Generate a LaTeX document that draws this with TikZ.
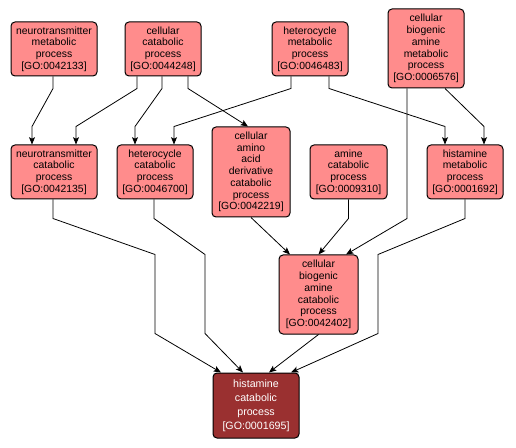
\documentclass[tikz,border=0pt]{standalone}
\usepackage{fontspec}
\setmainfont{Liberation Sans}
\usetikzlibrary{arrows.meta,calc}
\definecolor{termfill}{RGB}{255,140,140}
\definecolor{mainfill}{RGB}{154,48,48}
\begin{document}
\begin{tikzpicture}[x=0.75pt,y=-0.75pt,
  sz/.style 2 args={minimum width=#1*0.75pt, minimum height=#2*0.75pt},
  term/.style={draw=black, line width=0.75pt, rounded corners=3pt, fill=termfill,
    align=center, inner sep=0pt, text=black, font=\fontsize{7.8}{8.8}\selectfont},
  mainterm/.style={term, fill=mainfill, text=white, font=\fontsize{8}{10.5}\selectfont},
  edge/.style={draw=black, line width=0.6pt, -{Stealth[length=5.5pt,width=4.5pt,inset=1.2pt]}}]
\fill[white] (0,0) rectangle (516,448);
\useasboundingbox (0,0) rectangle (516,448);

\node[term, sz={86}{54}] (n1) at (54,49) {neurotransmitter\\metabolic\\process\\{[GO:0042133]}};
\node[term, sz={76}{54}] (n2) at (163,49) {cellular\\catabolic\\process\\{[GO:0044248]}};
\node[term, sz={76}{54}] (n3) at (310,49) {heterocycle\\metabolic\\process\\{[GO:0046483]}};
\node[term, sz={76}{79}] (n4) at (426,48.5) {cellular\\biogenic\\amine\\metabolic\\process\\{[GO:0006576]}};
\node[term, sz={86}{54}] (n5) at (54,172) {neurotransmitter\\catabolic\\process\\{[GO:0042135]}};
\node[term, sz={76}{54}] (n6) at (155,172) {heterocycle\\catabolic\\process\\{[GO:0046700]}};
\node[term, sz={78}{90}] (n7) at (251,172) {cellular\\amino\\acid\\derivative\\catabolic\\process\\{[GO:0042219]}};
\node[term, sz={77}{54}] (n8) at (348.5,172) {amine\\catabolic\\process\\{[GO:0009310]}};
\node[term, sz={76}{54}] (n9) at (465,172) {histamine\\metabolic\\process\\{[GO:0001692]}};
\node[term, sz={79}{79}] (n10) at (318.5,294.5) {cellular\\biogenic\\amine\\catabolic\\process\\{[GO:0042402]}};
\node[mainterm, sz={86}{65}] (n11) at (256,405.5) {histamine\\catabolic\\process\\{[GO:0001695]}};

\draw[edge] ($(n1.south)+(-1,0)$) -- ++(0,12) -- ($(n5.north)+(-22,-18)$) -- ($(n5.north)+(-22,0)$);
\draw[edge] ($(n2.south)+(-26,0)$) -- ++(0,12) -- ($(n5.north)+(22,-18)$) -- ($(n5.north)+(22,0)$);
\draw[edge] ($(n2.south)+(-1,0)$) -- ++(0,12) -- ($(n6.north)+(-20,-18)$) -- ($(n6.north)+(-20,0)$);
\draw[edge] ($(n2.south)+(25,0)$) -- ++(0,12) -- ($(n7.north)+(-3,0)$);
\draw[edge] ($(n3.south)+(-19,0)$) -- ++(0,12) -- ($(n6.north)+(19,-18)$) -- ($(n6.north)+(19,0)$);
\draw[edge] ($(n3.south)+(19,0)$) -- ++(0,12) -- ($(n9.north)+(-20,-18)$) -- ($(n9.north)+(-20,0)$);
\draw[edge] ($(n4.south)+(19,0)$) -- ($(n9.north)+(19,-18)$) -- ($(n9.north)+(19,0)$);
\draw[edge] ($(n4.south)+(-19,0)$) -- ($(n4.south)+(-19,130)$) -- ($(n10.north)+(27.5,0)$);
\draw[edge] (n7.south) -- ($(n10.north)+(-28.5,0)$);
\draw[edge] (n8.south) -- ++(0,19) -- (n10.north);
\draw[edge] ($(n5.south)+(-1,0)$) -- ++(0,19) -- ($(n11.north)+(-101,-118)$) -- ($(n11.north)+(-101,-39)$) -- ($(n11.north)+(-35,0)$);
\draw[edge] ($(n6.south)+(-1,0)$) -- ++(0,19) -- ($(n11.north)+(-51,-118)$) -- ($(n11.north)+(-51,-39)$) -- ($(n11.north)+(-13,0)$);
\draw[edge] (n10.south) -- ($(n11.north)+(13,0)$);
\draw[edge] (n9.south) -- ++(0,19) -- ($(n11.north)+(122,-118)$) -- ($(n11.north)+(122,-39)$) -- ($(n11.north)+(35,0)$);
\end{tikzpicture}
\end{document}
